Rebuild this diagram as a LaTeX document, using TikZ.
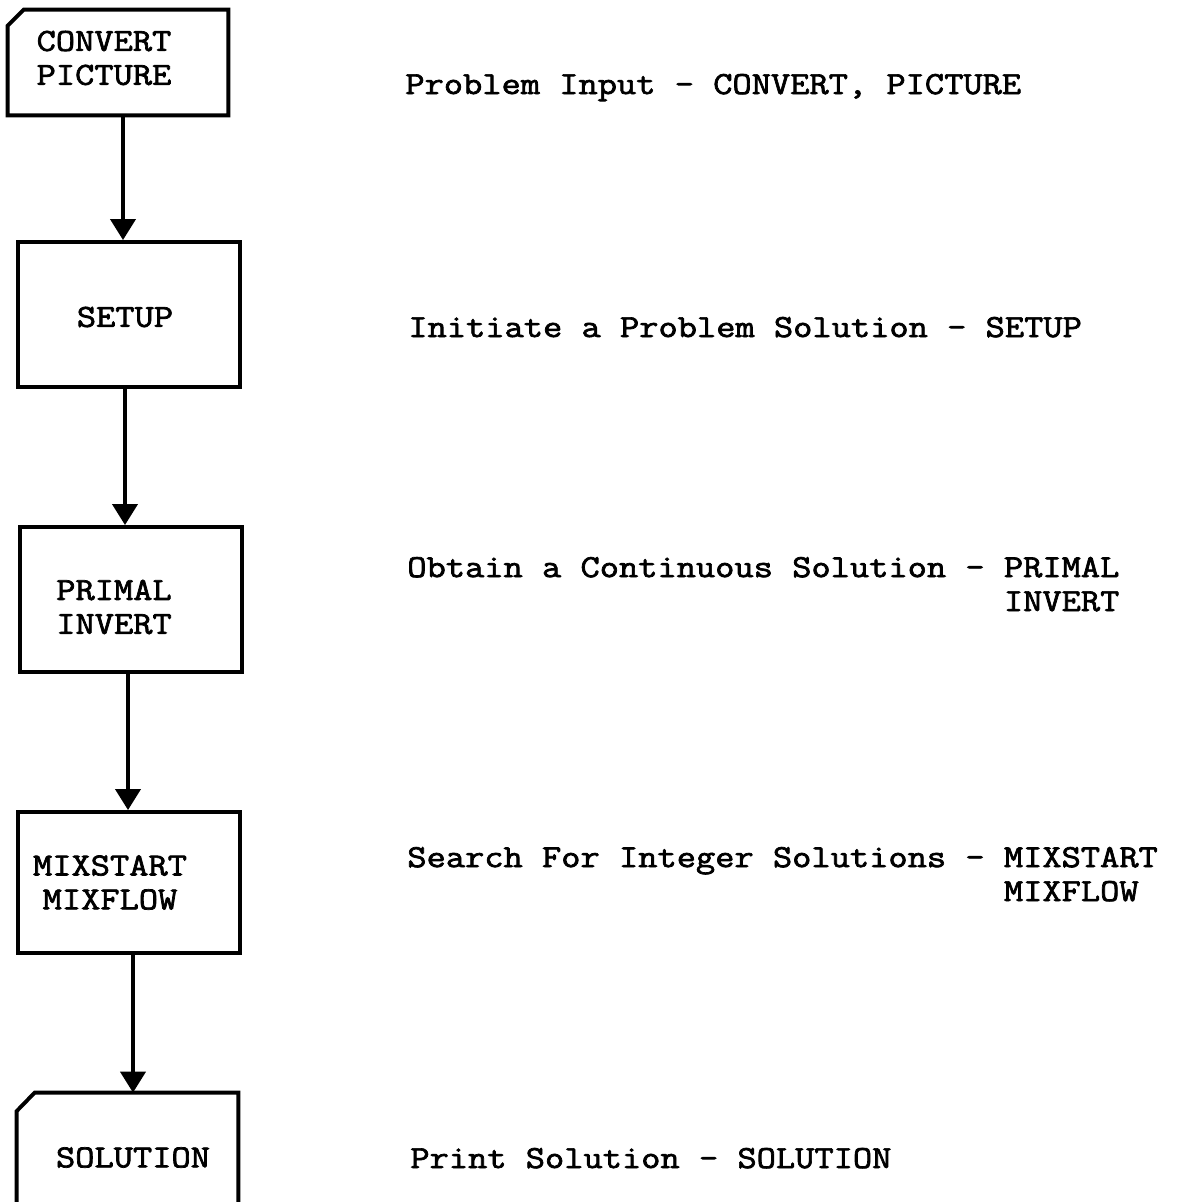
\documentclass[tikz,border=0pt]{standalone}
\usepackage{fontspec}
\usetikzlibrary{arrows.meta}
\newfontfamily\typewr{Latin Modern Mono}[FakeBold=2.2, FakeStretch=1.162]
\tikzset{
  stepbox/.style={draw, line width=2.2pt, inner sep=0pt, minimum width=4.44cm, minimum height=2.9cm},
  cardbox/.style={inner sep=0pt, minimum width=4.4cm},
  boxtext/.style={font=\typewr\fontsize{18.3pt}{19.3pt}\selectfont, align=center, inner sep=0pt},
  note/.style={font=\typewr\fontsize{18.3pt}{19.3pt}\selectfont, align=left, anchor=base west, inner sep=0pt},
  flow/.style={line width=2.2pt, -{Triangle[width=0.5cm,length=0.42cm]}},
}
\begin{document}
\begin{tikzpicture}
			\useasboundingbox (0,0) rectangle (23.52,-24.04);
			\clip (0,0) rectangle (23.52,-24.04);
			% program blocks down the left side
			\node[cardbox, minimum height=2.1cm] (convert) at (2.36,-1.25) {};
			\node[boxtext] at ([xshift=-0.28cm,yshift=0.09cm]convert.center) {CONVERT\\PICTURE};
			\draw[line width=2.2pt] ([yshift=-0.32cm]convert.north west) -- ([xshift=0.32cm]convert.north west)
				-- (convert.north east) -- (convert.south east) -- (convert.south west) -- cycle;
			\node[stepbox, label={[boxtext,xshift=-0.08cm,yshift=-0.05cm]center:SETUP}] (setup) at (2.58,-6.29) {};
			\node[stepbox, label={[boxtext,xshift=-0.34cm,yshift=-0.15cm]center:{PRIMAL\\INVERT}}] (primal) at (2.62,-11.99) {};
			\node[stepbox, minimum height=2.82cm, label={[boxtext,xshift=-0.38cm]center:{MIXSTART\\MIXFLOW}}] (mix) at (2.58,-17.65) {};
			\node[cardbox, minimum width=4.42cm, minimum height=2.58cm] (solution) at (2.55,-23.15) {};
			\node[boxtext] at ([xshift=0.11cm]solution.center) {SOLUTION};
			\draw[line width=2.2pt] ([yshift=-0.37cm]solution.north west) -- ([xshift=0.36cm]solution.north west)
				-- (solution.north east) -- (solution.south east) -- (solution.south west) -- cycle;
			% flow between blocks
			\draw[flow] ([xshift=0.10cm]convert.south) -- ([xshift=0.10cm]convert.south |- setup.north);
			\draw[flow] ([xshift=-0.08cm]setup.south) -- ([xshift=-0.08cm]setup.south |- primal.north);
			\draw[flow] ([xshift=-0.06cm]primal.south) -- ([xshift=-0.06cm]primal.south |- mix.north);
			\draw[flow] ([xshift=0.08cm]mix.south) -- ([xshift=0.08cm]mix.south |- solution.north);
			% descriptions
			\node[note] (inputnote) at (8.10,-1.88) {Problem Input - CONVERT, PICTURE};
			\node[note] (setupnote) at (8.16,-6.74) {Initiate a Problem Solution - SETUP};
			\node[note] (primalnote) at (8.14,-12.22) {Obtain a Continuous Solution - PRIMAL\\\hphantom{Obtain a Continuous Solution - }INVERT};
			\node[note] (mixnote) at (8.14,-18.02) {Search For Integer Solutions - MIXSTART\\\hphantom{Search For Integer Solutions - }MIXFLOW};
			\node[note] (solutionnote) at (8.20,-23.36) {Print Solution - SOLUTION};
\end{tikzpicture}
\end{document}
